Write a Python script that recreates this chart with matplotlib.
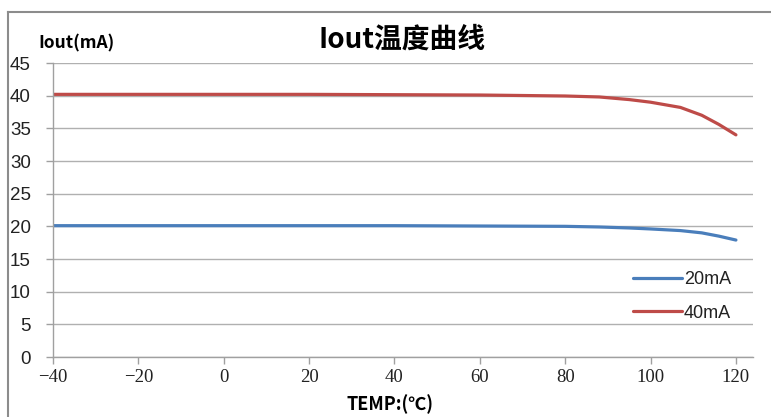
import matplotlib
matplotlib.use("Agg")
import matplotlib.pyplot as plt
from matplotlib.lines import Line2D

plt.rcParams['font.family'] = ['Noto Sans CJK SC', 'DejaVu Sans']

temp = [-40, -20, 0, 20, 40, 60, 80, 88, 95, 100, 107, 112, 116, 120]
i20 = [20.1, 20.1, 20.1, 20.1, 20.1, 20.05, 20.0, 19.9, 19.75, 19.6, 19.35, 19.0, 18.5, 17.9]
i40 = [40.2, 40.2, 40.2, 40.2, 40.15, 40.1, 39.95, 39.8, 39.4, 39.0, 38.2, 37.0, 35.6, 34.0]
xticks = [-40, -20, 0, 20, 40, 60, 80, 100, 120]
yticks = [0, 5, 10, 15, 20, 25, 30, 35, 40, 45]

W, H = 771, 417
fig = plt.figure(figsize=(W/100, H/100), dpi=100)
fig.patch.set_facecolor('white')
fig.add_artist(Line2D([8/W, 8/W], [0, 1 - 12/H], transform=fig.transFigure, color='#8c8c8c', lw=1.5))
fig.add_artist(Line2D([8/W, 1.0], [1 - 12/H, 1 - 12/H], transform=fig.transFigure, color='#8c8c8c', lw=1.5))

ax = fig.add_axes([53/W, (H-357)/H, (753-53)/W, (357-63)/H])
ax.plot(temp, i20, color='#4a7ebb', lw=2.3, label='20mA', solid_capstyle='round')
ax.plot(temp, i40, color='#be4b48', lw=2.3, label='40mA', solid_capstyle='round')

ax.set_xlim(-40, 124)
ax.set_ylim(0, 45)
ax.set_yticks(yticks)
ax.set_xticks(xticks)
ax.set_yticklabels([str(v) for v in yticks], fontsize=13.5, color='#222222', family=['Liberation Sans'])
ax.set_xticklabels([str(v).replace('-', '\u2212') for v in xticks], fontsize=13.5, color='#222222',
                   family=['Liberation Serif', 'DejaVu Serif'])
ax.grid(axis='y', color='#b0b0b0', lw=1.0)
ax.grid(axis='x', visible=False)
ax.set_axisbelow(True)
for s in ['top', 'right']:
    ax.spines[s].set_visible(False)
for s in ['left', 'bottom']:
    ax.spines[s].set_color('#a0a0a0')
    ax.spines[s].set_linewidth(1.0)
ax.tick_params(axis='both', colors='#a0a0a0', length=5, width=1.0, labelcolor='#222222')
ax.tick_params(axis='y', pad=11)
ax.tick_params(axis='x', pad=4)

leg = ax.legend(loc='upper left', bbox_to_anchor=((617-53)/700, (357-255)/294), frameon=False,
                prop={'family': 'Liberation Sans', 'size': 13},
                handlelength=2.7, handletextpad=0.1, labelspacing=0.9)
for t in leg.get_texts():
    t.set_color('#222222')

fig.text(402/W, 1 - 40/H, 'Iout温度曲线', ha='center', va='center', fontsize=20, fontweight='bold')
fig.text(77/W, 1 - 43/H, 'Iout(mA)', ha='center', va='center', fontsize=12.5, fontweight='bold')
fig.text(390/W, 1 - 404/H, 'TEMP:(℃)', ha='center', va='center', fontsize=13, fontweight='bold')

fig.savefig('out.png', dpi=100)
